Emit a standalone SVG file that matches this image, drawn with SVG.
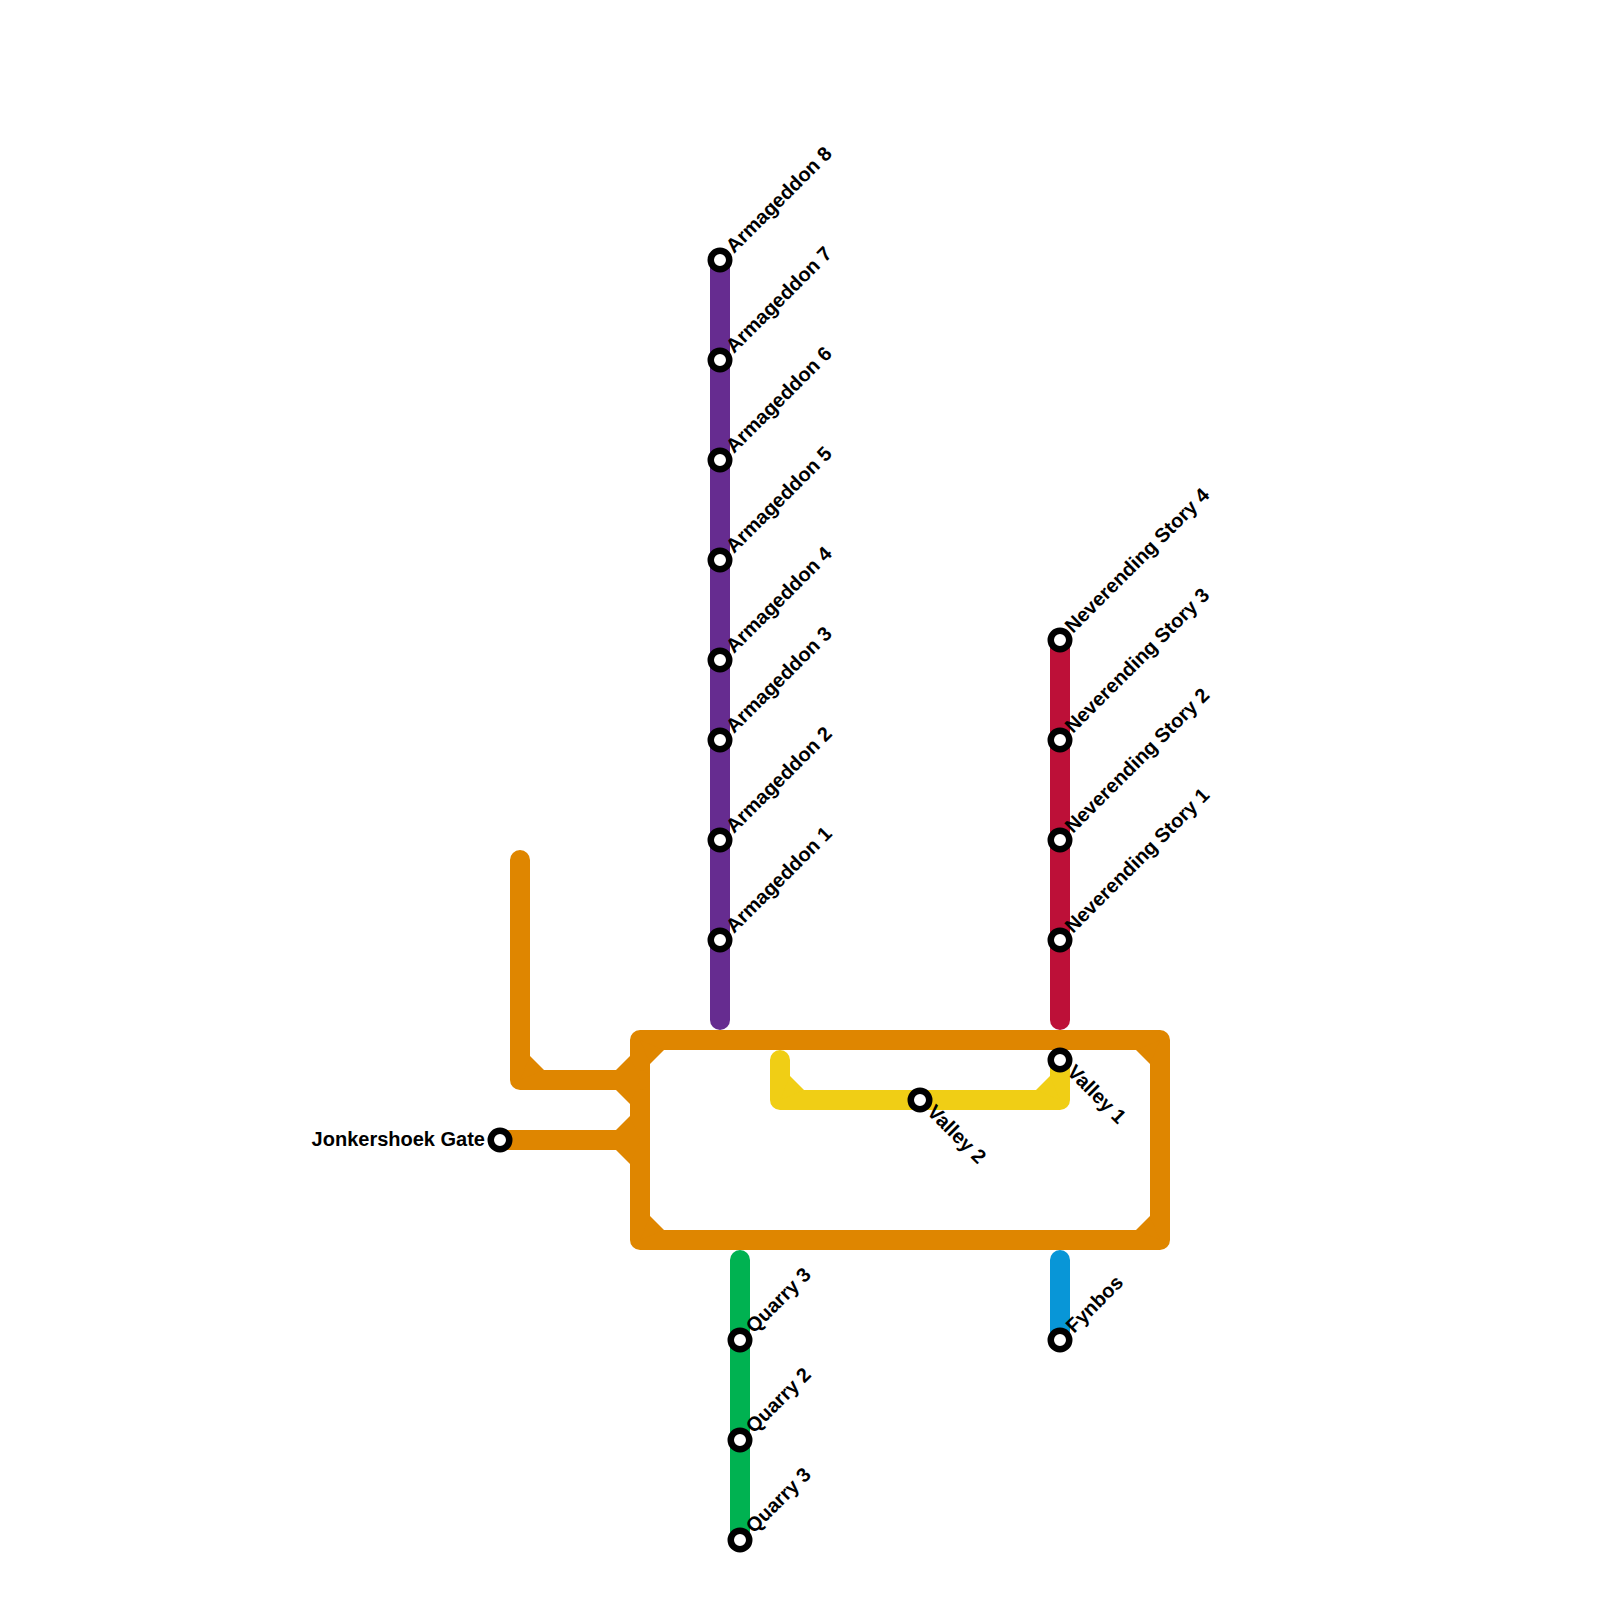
<svg xmlns="http://www.w3.org/2000/svg" width="1600" height="1600" viewBox="0 0 1600 1600">
<style>
.l{fill:none;stroke-width:20;stroke-linecap:round;stroke-linejoin:round}
.o{stroke:#DF8600}.p{stroke:#662C90}.r{stroke:#BD1038}.g{stroke:#00B251}.b{stroke:#0896D7}.y{stroke:#F0CE15}
.f{fill:#DF8600}.fy{fill:#F0CE15}
.s{fill:#fff;stroke:#000;stroke-width:6.5}
text{font-family:"Liberation Sans",Arial,sans-serif;font-weight:700;font-size:20px;fill:#000}
</style>
<g id="connectors">
<path class="l o" d="M640 1040H1160V1240H640Z"/>
<path class="l o" d="M520 860V1080H640" style="stroke-linecap:round"/>
<path class="l o" d="M500 1140H640" style="stroke-linecap:butt"/>
<polygon class="f" points="650,1064 664,1050 640,1040"/>
<polygon class="f" points="650,1216 664,1230 640,1240"/>
<polygon class="f" points="1136,1050 1150,1064 1160,1040"/>
<polygon class="f" points="1136,1230 1150,1216 1160,1240"/>
<polygon class="f" points="530,1056 544,1070 520,1080"/>
<polygon class="f" points="616,1070 630,1056 640,1080 630,1104 616,1090"/>
<polygon class="f" points="616,1130 630,1116 640,1140 630,1164 616,1150"/>
<path class="l y" d="M780 1060V1100H1060V1060"/>
<polygon class="fy" points="790,1076 804,1090 780,1100"/>
<polygon class="fy" points="1036,1090 1050,1076 1060,1100"/>
<path class="l p" d="M720 260V1020"/>
<path class="l r" d="M1060 640V1020"/>
<path class="l g" d="M740 1260V1540"/>
<path class="l b" d="M1060 1260V1340"/>
</g>
<g id="st-a8"><circle class="s" cx="720" cy="260" r="9.25"/><text transform="translate(734 254) rotate(-45)">Armageddon 8</text></g>
<g id="st-a7"><circle class="s" cx="720" cy="360" r="9.25"/><text transform="translate(734 354) rotate(-45)">Armageddon 7</text></g>
<g id="st-a6"><circle class="s" cx="720" cy="460" r="9.25"/><text transform="translate(734 454) rotate(-45)">Armageddon 6</text></g>
<g id="st-a5"><circle class="s" cx="720" cy="560" r="9.25"/><text transform="translate(734 554) rotate(-45)">Armageddon 5</text></g>
<g id="st-a4"><circle class="s" cx="720" cy="660" r="9.25"/><text transform="translate(734 654) rotate(-45)">Armageddon 4</text></g>
<g id="st-a3"><circle class="s" cx="720" cy="740" r="9.25"/><text transform="translate(734 734) rotate(-45)">Armageddon 3</text></g>
<g id="st-a2"><circle class="s" cx="720" cy="840" r="9.25"/><text transform="translate(734 834) rotate(-45)">Armageddon 2</text></g>
<g id="st-a1"><circle class="s" cx="720" cy="940" r="9.25"/><text transform="translate(734 934) rotate(-45)">Armageddon 1</text></g>
<g id="st-n4"><circle class="s" cx="1060" cy="640" r="9.25"/><text transform="translate(1073 634) rotate(-45)">Neverending Story 4</text></g>
<g id="st-n3"><circle class="s" cx="1060" cy="740" r="9.25"/><text transform="translate(1073 734) rotate(-45)">Neverending Story 3</text></g>
<g id="st-n2"><circle class="s" cx="1060" cy="840" r="9.25"/><text transform="translate(1073 834) rotate(-45)">Neverending Story 2</text></g>
<g id="st-n1"><circle class="s" cx="1060" cy="940" r="9.25"/><text transform="translate(1073 934) rotate(-45)">Neverending Story 1</text></g>
<g id="st-v1"><circle class="s" cx="1060" cy="1060" r="9.25"/><text transform="translate(1066 1073) rotate(45)">Valley 1</text></g>
<g id="st-v2"><circle class="s" cx="920" cy="1100" r="9.25"/><text transform="translate(926 1113) rotate(45)">Valley 2</text></g>
<g id="st-j"><circle class="s" cx="500" cy="1140" r="9.25"/><text x="485" y="1146" text-anchor="end">Jonkershoek Gate</text></g>
<g id="st-q3a"><circle class="s" cx="740" cy="1340" r="9.25"/><text transform="translate(754 1334) rotate(-45)">Quarry 3</text></g>
<g id="st-q2"><circle class="s" cx="740" cy="1440" r="9.25"/><text transform="translate(754 1434) rotate(-45)">Quarry 2</text></g>
<g id="st-q3b"><circle class="s" cx="740" cy="1540" r="9.25"/><text transform="translate(754 1534) rotate(-45)">Quarry 3</text></g>
<g id="st-f"><circle class="s" cx="1060" cy="1340" r="9.25"/><text transform="translate(1074 1334) rotate(-45)">Fynbos</text></g>
</svg>
